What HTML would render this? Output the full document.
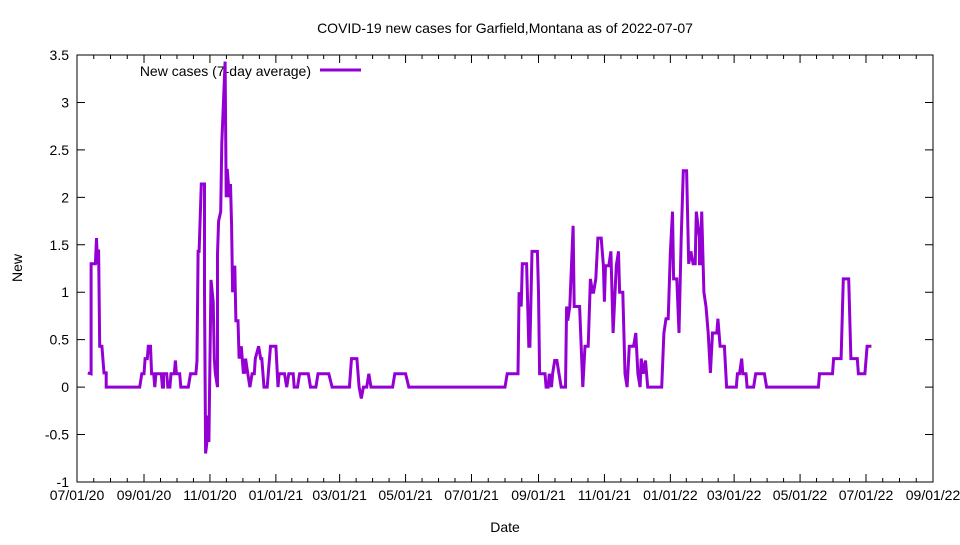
<!DOCTYPE html>
<html><head><meta charset="utf-8"><style>
body{margin:0;background:#fff}
text{font-family:"Liberation Sans",sans-serif;font-size:14px;fill:#000}
</style></head><body>
<svg id="c" width="960" height="540">
<text x="505" y="33" text-anchor="middle">COVID-19 new cases for Garfield,Montana as of 2022-07-07</text>
<text x="505" y="532" text-anchor="middle">Date</text>
<text x="22" y="268" text-anchor="middle" transform="rotate(-90 22 268)">New</text>
<rect x="77" y="55" width="856" height="427" fill="none" stroke="#000" stroke-width="1"/>
<g id="axes"></g>
<g>
<text x="311" y="76" text-anchor="end">New cases (7-day average)</text>
<line x1="320" y1="70" x2="361" y2="70" stroke="#9400d3" stroke-width="3"/>
</g>
<path id="line" fill="none" stroke="#9400d3" stroke-width="3" stroke-linejoin="miter"/>
</svg>
<script>
const yTicks=[-1,-0.5,0,0.5,1,1.5,2,2.5,3,3.5];
const yTickLabels=["-1","-0.5","0","0.5","1","1.5","2","2.5","3","3.5"];
const xTickDays=[0,62,123,184,243,304,365,427,488,549,608,669,730,792];
const xTickLabels=["07/01/20","09/01/20","11/01/20","01/01/21","03/01/21","05/01/21","07/01/21","09/01/21","11/01/21","01/01/22","03/01/22","05/01/22","07/01/22","09/01/22"];
const days=[10,13,13,17,18,19,20,21,23,25,27,27,58,60,62,63,65,66,68,69,71,72,73,76,78,79,80,80,83,84,86,87,90,91,92,95,96,103,105,110,111,112,113,115,118,118,119,120,121,122,124,126,127,128,130,130,131,133,134,137,138,139,141,142,143,144,146,147,149,150,152,154,155,155,156,158,160,162,164,165,168,170,171,173,176,179,184,186,187,190,191,192,194,196,200,201,204,206,214,216,221,223,233,236,252,254,259,261,263,265,268,270,272,292,294,304,307,396,398,408,409,411,412,416,418,419,421,426,427,428,433,434,436,437,439,440,442,444,446,448,452,453,454,456,459,460,465,468,470,473,475,477,478,480,482,485,487,488,489,492,494,496,499,501,502,505,507,509,511,515,517,519,521,522,524,526,528,530,541,543,545,547,549,551,552,555,557,559,561,564,566,568,570,572,573,576,576,577,578,580,582,584,586,588,589,592,593,595,599,601,610,611,613,615,616,619,620,626,628,636,638,686,687,699,700,707,709,714,716,722,723,729,731,735];
const values=[0.15,0.14,1.3,1.3,1.57,1.3,1.45,0.43,0.43,0.15,0.15,0,0,0.14,0.14,0.3,0.3,0.43,0.43,0.14,0.14,0,0.14,0.14,0.14,0,0,0.14,0.14,0,0,0.14,0.14,0.28,0.14,0.14,0,0,0.14,0.14,0.28,1.43,1.43,2.14,2.14,1.0,-0.7,-0.6,-0.3,-0.58,1.13,0.9,0.3,0.15,0,1.4,1.75,1.85,2.57,3.43,2.0,2.3,2.0,2.14,1.7,1.0,1.28,0.7,0.7,0.3,0.43,0.14,0.3,0.14,0.3,0.14,0,0.14,0.14,0.3,0.43,0.3,0.3,0,0,0.43,0.43,0,0.14,0.14,0.14,0.14,0,0.14,0.14,0,0,0.14,0.14,0,0,0.14,0.14,0,0,0.3,0.3,0,-0.12,0,0,0.14,0,0,0.14,0.14,0,0,0.14,0.14,1.0,0.85,1.3,1.3,0.43,0.43,1.43,1.43,1.0,0.14,0.14,0,0,0.14,0,0.14,0.28,0.28,0.14,0,0,0.85,0.7,0.85,1.7,0.85,0.85,0,0.43,0.43,1.14,1.0,1.0,1.14,1.57,1.57,1.28,0.9,1.28,1.28,1.43,0.57,1.28,1.43,1.0,1.0,0.14,0,0.43,0.43,0.57,0.14,0,0.3,0.14,0.28,0,0,0,0.57,0.72,0.72,1.43,1.85,1.14,1.14,0.57,1.57,2.28,2.28,1.3,1.43,1.3,1.3,1.85,1.57,1.3,1.3,1.85,1.0,0.85,0.57,0.15,0.57,0.57,0.57,0.72,0.43,0.43,0,0,0.14,0.14,0.3,0.14,0.14,0,0,0.14,0.14,0,0,0.14,0.14,0.3,0.3,1.14,1.14,0.3,0.3,0.14,0.14,0.43,0.43];
const X0=77,X1=933,Y0=482,Y1=55,D1=792,VMIN=-1,VMAX=3.5;
const xs=d=>X0+(d/D1)*(X1-X0);
const ys=v=>Y0-(v-VMIN)/(VMAX-VMIN)*(Y0-Y1);
const NS="http://www.w3.org/2000/svg";
const ax=document.getElementById('axes');
function mk(t,a){const e=document.createElementNS(NS,t);for(const k in a)e.setAttribute(k,a[k]);ax.appendChild(e);return e;}
yTicks.forEach((v,i)=>{const y=ys(v);
 const l=mk('path',{d:`M${X0},${y}h8M${X1},${y}h-8`,stroke:'#000','stroke-width':1});
 
 
 const t=mk('text',{x:X0-8,y:y+5,'text-anchor':'end'});t.textContent=yTickLabels[i];
 
 
});
xTickDays.forEach((d,i)=>{const x=xs(d);
 const l=mk('path',{d:`M${x},${Y0}v-8M${x},${Y1}v8`,stroke:'#000','stroke-width':1});
 
 
 const t=mk('text',{x:x,y:Y0+18,'text-anchor':'middle'});t.textContent=xTickLabels[i];
 
 
 if(i<xTickDays.length-1){const n=xTickDays[i+1];for(let k=1;k<2;k++){}
  const step=(n-d)/2;[d+step*0.5,d+step,d+step*1.5].forEach(m=>{const mx=xs(m);
   const ml=mk('path',{d:`M${mx},${Y0}v-4M${mx},${Y1}v4`,stroke:'#000','stroke-width':1});
   
   });}
});
document.getElementById('line').setAttribute('d',days.map((d,i)=>(i?'L':'M')+xs(d).toFixed(1)+','+ys(values[i]).toFixed(1)).join(''));
</script>
</body></html>
